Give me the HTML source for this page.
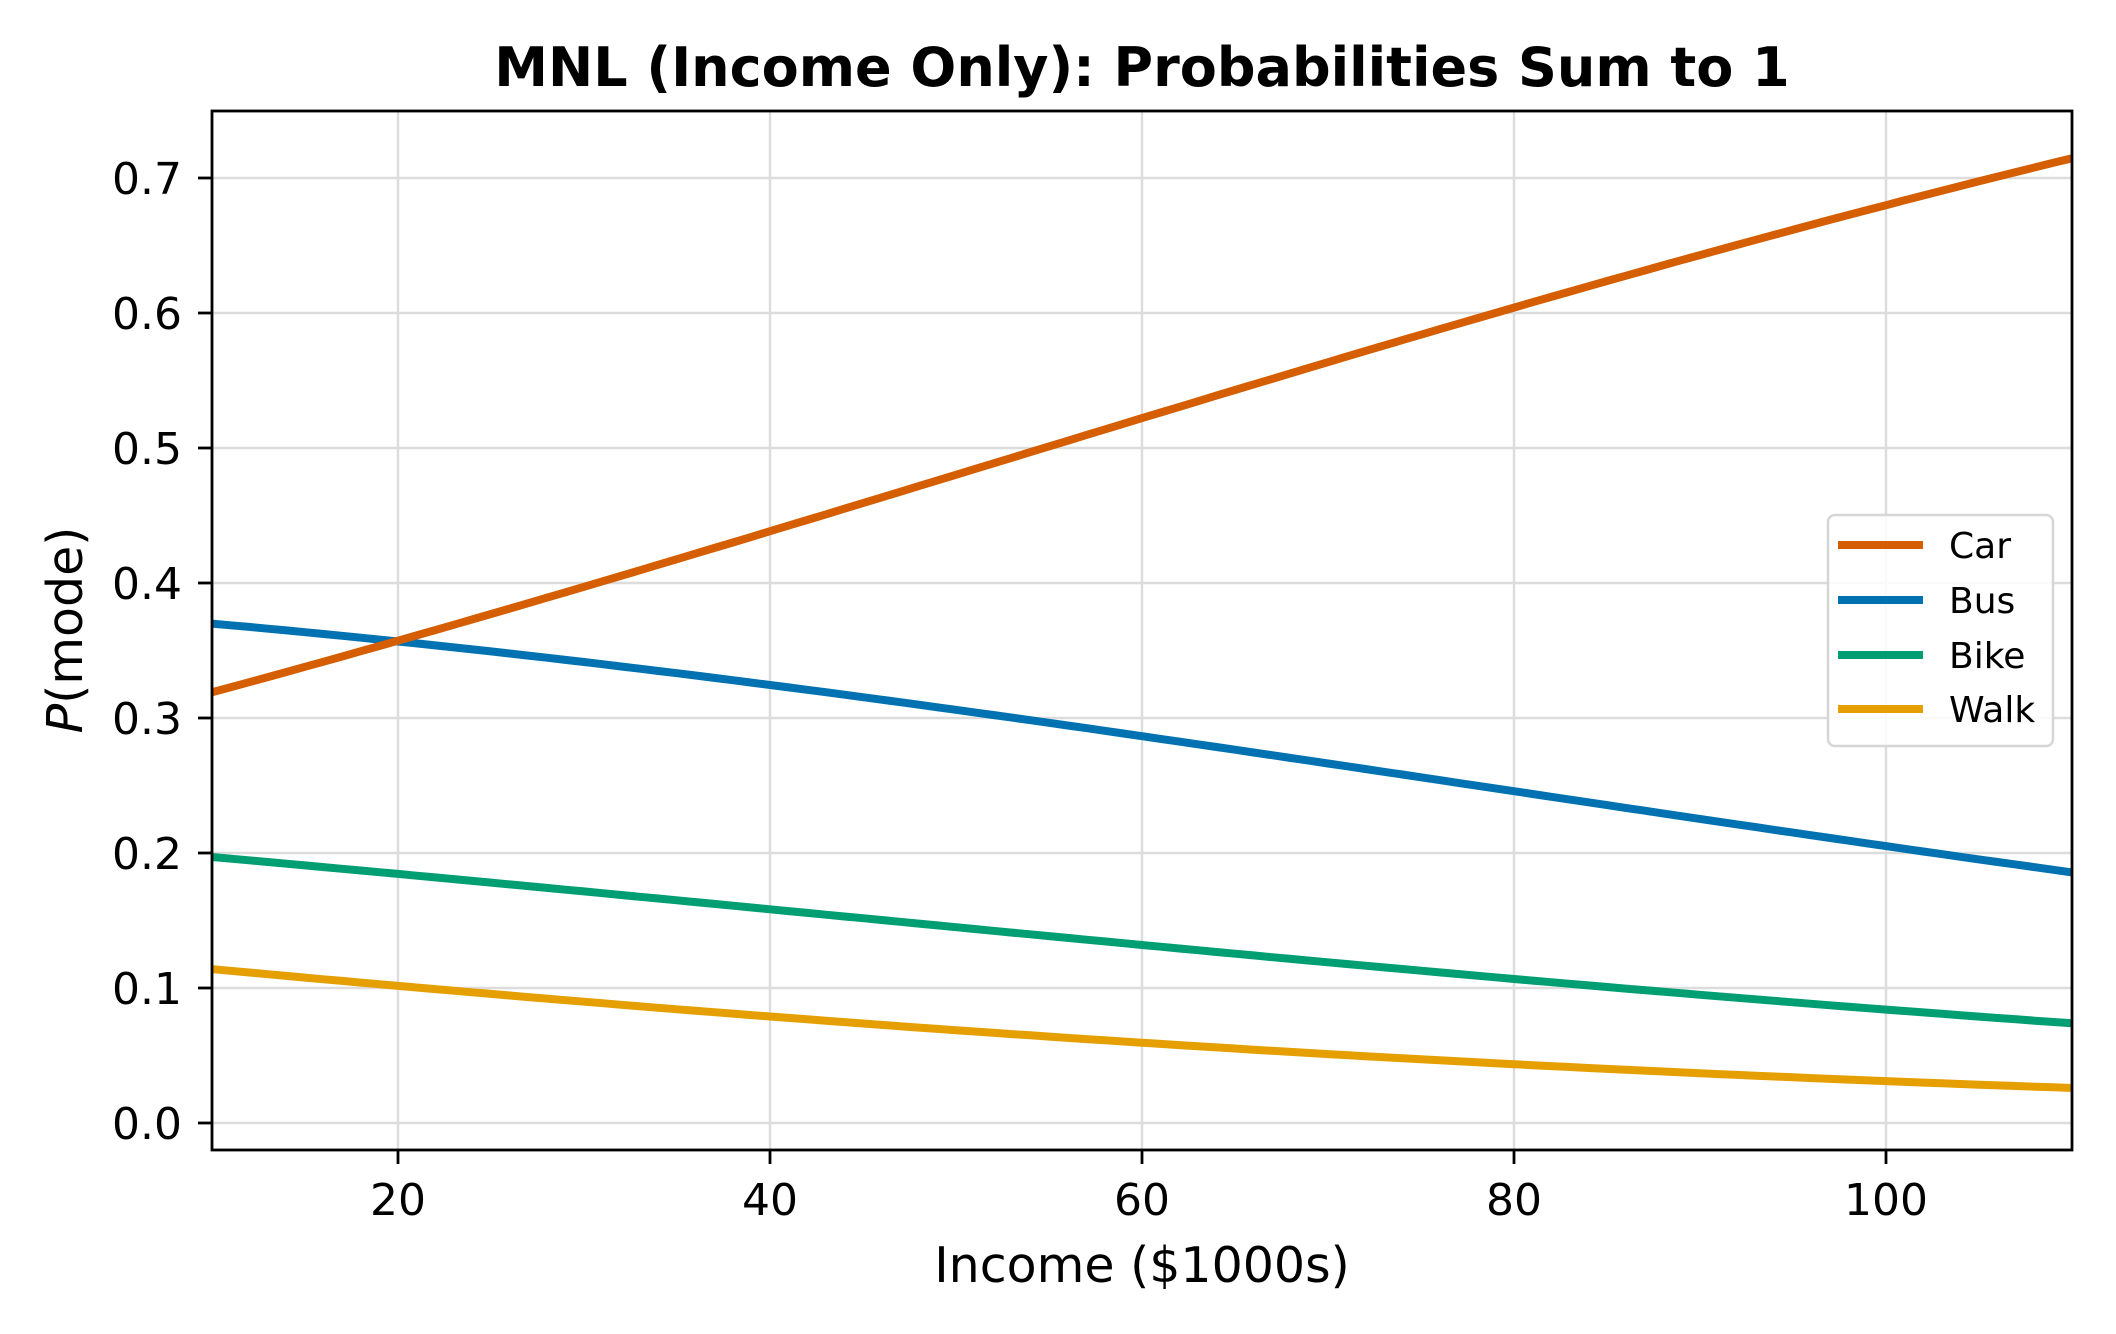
<!DOCTYPE html>
<html><head><meta charset="utf-8"><style>
html,body{margin:0;padding:0;background:#fff}
svg{display:block;font-family:"DejaVu Sans","Liberation Sans",sans-serif}
</style></head><body>
<svg id="s" width="2116" height="1334" xmlns="http://www.w3.org/2000/svg">
<rect width="2116" height="1334" fill="#fff"/>
<g id="grid" stroke="#dcdcdc" stroke-width="2.4"></g>
<g id="lines" fill="none" stroke-width="8" stroke-linecap="butt"></g>
<rect x="212" y="111" width="1860" height="1039" fill="none" stroke="#000" stroke-width="2.8"/>
<g id="ticks" stroke="#000" stroke-width="2.8"></g>
<g id="labels" font-size="44" fill="#000"></g>
<text x="1142" y="86" text-anchor="middle" font-size="54" font-weight="bold">MNL (Income Only): Probabilities Sum to 1</text>
<text x="1142" y="1282" text-anchor="middle" font-size="49">Income ($1000s)</text>
<text transform="translate(82,630) rotate(-90)" text-anchor="middle" font-size="49"><tspan font-style="italic">P</tspan>(mode)</text>
<rect x="1828" y="515" width="225" height="231" rx="7" fill="#fff" fill-opacity="0.85" stroke="#d6d6d6" stroke-width="2.5"/>
<g stroke-width="8">
<line x1="1838" y1="545" x2="1923" y2="545" stroke="#D55E00"/>
<line x1="1838" y1="600" x2="1923" y2="600" stroke="#0072B2"/>
<line x1="1838" y1="655" x2="1923" y2="655" stroke="#009E73"/>
<line x1="1838" y1="709" x2="1923" y2="709" stroke="#E69F00"/>
</g>
<g font-size="36" fill="#000">
<text x="1949" y="558">Car</text>
<text x="1949" y="613">Bus</text>
<text x="1949" y="668">Bike</text>
<text x="1949" y="722">Walk</text>
</g>
</svg>
<script>
var NS="http://www.w3.org/2000/svg";
function X(v){return 212+(v-10)*18.6;}
function Y(p){return 1123-p*1350;}
function el(t,a,parent){var e=document.createElementNS(NS,t);for(var k in a)e.setAttribute(k,a[k]);document.getElementById(parent).appendChild(e);return e;}
for(var v=20;v<=100;v+=20){var x=X(v);
 el("line",{x1:x,y1:111,x2:x,y2:1150},"grid");
 el("line",{x1:x,y1:1150,x2:x,y2:1164},"ticks");
 var t=el("text",{x:x,y:1215,"text-anchor":"middle"},"labels");t.textContent=v;}
for(var i=0;i<=7;i++){var y=Y(i/10);
 el("line",{x1:212,y1:y,x2:2072,y2:y},"grid");
 el("line",{x1:198,y1:y,x2:212,y2:y},"ticks");
 var t=el("text",{x:182,y:y+16,"text-anchor":"end"},"labels");t.textContent=(i/10).toFixed(1);}
var a=[0,0.148+0.01496*10,-0.482+0.01788*10,-1.029+0.02287*10];
var b=[0,-0.01496,-0.01788,-0.02287];
var cols=["#D55E00","#0072B2","#009E73","#E69F00"];
var pts=[[],[],[],[]];
for(var v=10;v<=110;v+=1){var e=[],s=0;for(var j=0;j<4;j++){e[j]=Math.exp(a[j]+b[j]*v);s+=e[j];}
 for(var j=0;j<4;j++)pts[j].push(X(v).toFixed(1)+","+Y(e[j]/s).toFixed(1));}
for(var j=3;j>=0;j--)el("polyline",{points:pts[j].join(" "),stroke:cols[j]},"lines");
</script>
</body></html>
